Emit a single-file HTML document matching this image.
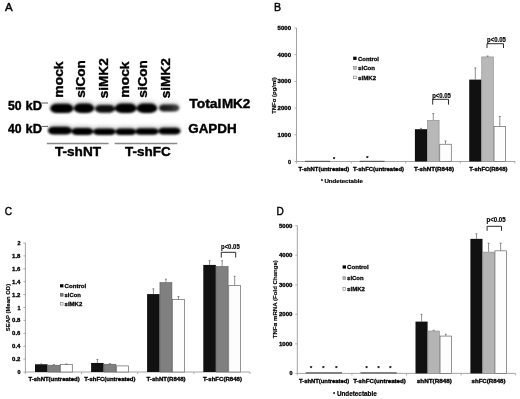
<!DOCTYPE html>
<html><head><meta charset="utf-8"><title>Figure</title>
<style>html,body{margin:0;padding:0;background:#fff;} svg{display:block;filter:blur(0.3px);} text{font-family:"Liberation Sans", Arial, sans-serif;}</style>
</head><body>
<svg width="520" height="399" viewBox="0 0 520 399">
<rect width="520" height="399" fill="#fff"/>
<text x="4.90" y="10.70" font-size="11.8" text-anchor="start" font-weight="normal" fill="#000" textLength="7.7" lengthAdjust="spacingAndGlyphs" stroke="#000" stroke-width="0.45">A</text>
<text transform="translate(62.60,97.65) rotate(-90)" font-size="12.0" text-anchor="start" font-weight="bold" fill="#000" textLength="36.199999999999996" lengthAdjust="spacingAndGlyphs" stroke="#000" stroke-width="0.35">mock</text>
<text transform="translate(85.30,97.65) rotate(-90)" font-size="12.0" text-anchor="start" font-weight="bold" fill="#000" textLength="37.5" lengthAdjust="spacingAndGlyphs" stroke="#000" stroke-width="0.35">siCon</text>
<text transform="translate(108.10,98.35) rotate(-90)" font-size="12.0" text-anchor="start" font-weight="bold" fill="#000" textLength="40.1" lengthAdjust="spacingAndGlyphs" stroke="#000" stroke-width="0.35">siMK2</text>
<text transform="translate(129.00,97.65) rotate(-90)" font-size="12.0" text-anchor="start" font-weight="bold" fill="#000" textLength="36.199999999999996" lengthAdjust="spacingAndGlyphs" stroke="#000" stroke-width="0.35">mock</text>
<text transform="translate(147.30,97.65) rotate(-90)" font-size="12.0" text-anchor="start" font-weight="bold" fill="#000" textLength="37.5" lengthAdjust="spacingAndGlyphs" stroke="#000" stroke-width="0.35">siCon</text>
<text transform="translate(169.50,98.35) rotate(-90)" font-size="12.0" text-anchor="start" font-weight="bold" fill="#000" textLength="40.1" lengthAdjust="spacingAndGlyphs" stroke="#000" stroke-width="0.35">siMK2</text>
<text x="7.90" y="110.30" font-size="12.6" text-anchor="start" font-weight="bold" fill="#000" textLength="13.6" lengthAdjust="spacingAndGlyphs" stroke="#000" stroke-width="0.4">50</text>
<text x="25.50" y="110.30" font-size="12.6" text-anchor="start" font-weight="bold" fill="#000" textLength="16.5" lengthAdjust="spacingAndGlyphs" stroke="#000" stroke-width="0.4">kD</text>
<line x1="41.60" y1="103.00" x2="48.00" y2="103.00" stroke="#333" stroke-width="0.8"/>
<text x="7.90" y="133.00" font-size="12.6" text-anchor="start" font-weight="bold" fill="#000" textLength="13.6" lengthAdjust="spacingAndGlyphs" stroke="#000" stroke-width="0.4">40</text>
<text x="25.50" y="133.00" font-size="12.6" text-anchor="start" font-weight="bold" fill="#000" textLength="16.5" lengthAdjust="spacingAndGlyphs" stroke="#000" stroke-width="0.4">kD</text>
<line x1="41.60" y1="126.40" x2="48.00" y2="126.40" stroke="#333" stroke-width="0.8"/>
<text x="189.20" y="108.10" font-size="13.2" text-anchor="start" font-weight="bold" fill="#000" textLength="32.2" lengthAdjust="spacingAndGlyphs" stroke="#000" stroke-width="0.4">Total</text>
<text x="221.90" y="108.10" font-size="13.2" text-anchor="start" font-weight="bold" fill="#000" textLength="28.4" lengthAdjust="spacingAndGlyphs" stroke="#000" stroke-width="0.4">MK2</text>
<text x="188.20" y="133.00" font-size="13.3" text-anchor="start" font-weight="bold" fill="#000" textLength="48.5" lengthAdjust="spacingAndGlyphs" stroke="#000" stroke-width="0.4">GAPDH</text>
<line x1="46.80" y1="143.60" x2="108.60" y2="143.60" stroke="#8a8a8a" stroke-width="1.5"/>
<line x1="114.60" y1="143.60" x2="177.30" y2="143.60" stroke="#8a8a8a" stroke-width="1.5"/>
<text x="55.00" y="156.30" font-size="12.7" text-anchor="start" font-weight="bold" fill="#000" textLength="46.0" lengthAdjust="spacingAndGlyphs" stroke="#000" stroke-width="0.4">T-shNT</text>
<text x="125.00" y="156.30" font-size="12.7" text-anchor="start" font-weight="bold" fill="#000" textLength="45.6" lengthAdjust="spacingAndGlyphs" stroke="#000" stroke-width="0.4">T-shFC</text>
<defs><filter id="bl" x="-20%" y="-60%" width="140%" height="220%"><feGaussianBlur stdDeviation="0.85"/></filter><filter id="bl2" x="-20%" y="-100%" width="140%" height="300%"><feGaussianBlur stdDeviation="2.2"/></filter><linearGradient id="g6" x1="0" y1="0" x2="1" y2="0"><stop offset="0" stop-color="#161616"/><stop offset="0.6" stop-color="#262626"/><stop offset="1" stop-color="#4a4a4a"/></linearGradient></defs>
<g filter="url(#bl2)" opacity="0.24">
<rect x="50.20" y="101.80" width="23.20" height="9.20" rx="6.90" ry="4.60" fill="#060606"/>
<rect x="73.80" y="101.60" width="20.40" height="9.40" rx="7.05" ry="4.70" fill="#060606"/>
<rect x="95.00" y="102.90" width="20.00" height="7.80" rx="5.85" ry="3.90" fill="#0a0a0a"/>
<rect x="114.80" y="101.50" width="21.80" height="9.50" rx="7.12" ry="4.75" fill="#060606"/>
<rect x="136.60" y="101.60" width="20.60" height="9.40" rx="7.05" ry="4.70" fill="#060606"/>
<rect x="159.00" y="102.60" width="20.40" height="6.80" rx="5.10" ry="3.40" fill="url(#g6)"/>
<rect x="48.00" y="124.70" width="23.80" height="7.90" rx="5.92" ry="3.95" fill="#060606"/>
<rect x="71.50" y="126.10" width="21.70" height="6.90" rx="5.18" ry="3.45" fill="#060606"/>
<rect x="93.20" y="126.40" width="22.40" height="6.60" rx="4.95" ry="3.30" fill="#060606"/>
<rect x="115.60" y="126.50" width="20.20" height="6.40" rx="4.80" ry="3.20" fill="#060606"/>
<rect x="135.60" y="126.30" width="22.60" height="6.40" rx="4.80" ry="3.20" fill="#060606"/>
<rect x="158.20" y="125.70" width="22.40" height="6.80" rx="5.10" ry="3.40" fill="#060606"/>
</g>
<g filter="url(#bl)">
<rect x="50.20" y="103.80" width="23.20" height="9.20" rx="6.90" ry="4.60" fill="#060606"/>
<rect x="73.80" y="103.60" width="20.40" height="9.40" rx="7.05" ry="4.70" fill="#060606"/>
<rect x="95.00" y="104.90" width="20.00" height="7.80" rx="5.85" ry="3.90" fill="#0a0a0a"/>
<rect x="114.80" y="103.50" width="21.80" height="9.50" rx="7.12" ry="4.75" fill="#060606"/>
<rect x="136.60" y="103.60" width="20.60" height="9.40" rx="7.05" ry="4.70" fill="#060606"/>
<rect x="159.00" y="104.60" width="20.40" height="6.80" rx="5.10" ry="3.40" fill="url(#g6)"/>
<rect x="48.00" y="126.70" width="23.80" height="7.90" rx="5.92" ry="3.95" fill="#060606"/>
<rect x="71.50" y="128.10" width="21.70" height="6.90" rx="5.18" ry="3.45" fill="#060606"/>
<rect x="93.20" y="128.40" width="22.40" height="6.60" rx="4.95" ry="3.30" fill="#060606"/>
<rect x="115.60" y="128.50" width="20.20" height="6.40" rx="4.80" ry="3.20" fill="#060606"/>
<rect x="135.60" y="128.30" width="22.60" height="6.40" rx="4.80" ry="3.20" fill="#060606"/>
<rect x="158.20" y="127.70" width="22.40" height="6.80" rx="5.10" ry="3.40" fill="#060606"/>
</g>
<text x="273.90" y="10.70" font-size="11.8" text-anchor="start" font-weight="normal" fill="#000" textLength="7.1" lengthAdjust="spacingAndGlyphs" stroke="#000" stroke-width="0.45">B</text>
<line x1="296.50" y1="28.00" x2="296.50" y2="161.50" stroke="#9a9a9a" stroke-width="0.9"/>
<line x1="296.50" y1="161.50" x2="515.00" y2="161.50" stroke="#9a9a9a" stroke-width="0.9"/>
<line x1="294.50" y1="161.50" x2="296.50" y2="161.50" stroke="#9a9a9a" stroke-width="0.8"/>
<text x="291.00" y="163.50" font-size="5.4" text-anchor="end" font-weight="bold" fill="#000" stroke="#000" stroke-width="0.3">0</text>
<line x1="294.50" y1="134.80" x2="296.50" y2="134.80" stroke="#9a9a9a" stroke-width="0.8"/>
<text x="291.00" y="136.80" font-size="5.4" text-anchor="end" font-weight="bold" fill="#000" textLength="13.4" lengthAdjust="spacingAndGlyphs" stroke="#000" stroke-width="0.3">1000</text>
<line x1="294.50" y1="108.10" x2="296.50" y2="108.10" stroke="#9a9a9a" stroke-width="0.8"/>
<text x="291.00" y="110.10" font-size="5.4" text-anchor="end" font-weight="bold" fill="#000" textLength="13.4" lengthAdjust="spacingAndGlyphs" stroke="#000" stroke-width="0.3">2000</text>
<line x1="294.50" y1="81.40" x2="296.50" y2="81.40" stroke="#9a9a9a" stroke-width="0.8"/>
<text x="291.00" y="83.40" font-size="5.4" text-anchor="end" font-weight="bold" fill="#000" textLength="13.4" lengthAdjust="spacingAndGlyphs" stroke="#000" stroke-width="0.3">3000</text>
<line x1="294.50" y1="54.70" x2="296.50" y2="54.70" stroke="#9a9a9a" stroke-width="0.8"/>
<text x="291.00" y="56.70" font-size="5.4" text-anchor="end" font-weight="bold" fill="#000" textLength="13.4" lengthAdjust="spacingAndGlyphs" stroke="#000" stroke-width="0.3">4000</text>
<line x1="294.50" y1="28.00" x2="296.50" y2="28.00" stroke="#9a9a9a" stroke-width="0.8"/>
<text x="291.00" y="30.00" font-size="5.4" text-anchor="end" font-weight="bold" fill="#000" textLength="13.4" lengthAdjust="spacingAndGlyphs" stroke="#000" stroke-width="0.3">5000</text>
<line x1="296.50" y1="161.50" x2="296.50" y2="163.50" stroke="#9a9a9a" stroke-width="0.8"/>
<line x1="351.10" y1="161.50" x2="351.10" y2="163.50" stroke="#9a9a9a" stroke-width="0.8"/>
<line x1="405.70" y1="161.50" x2="405.70" y2="163.50" stroke="#9a9a9a" stroke-width="0.8"/>
<line x1="460.30" y1="161.50" x2="460.30" y2="163.50" stroke="#9a9a9a" stroke-width="0.8"/>
<line x1="514.90" y1="161.50" x2="514.90" y2="163.50" stroke="#9a9a9a" stroke-width="0.8"/>
<rect x="414.90" y="129.19" width="12.25" height="32.31" fill="#111"/>
<line x1="421.02" y1="128.39" x2="421.02" y2="129.19" stroke="#444" stroke-width="0.6"/>
<line x1="420.02" y1="128.39" x2="422.02" y2="128.39" stroke="#444" stroke-width="0.6"/>
<rect x="427.45" y="120.31" width="11.65" height="41.19" fill="#b8b8b8" stroke="#8a8a8a" stroke-width="0.6"/>
<line x1="433.27" y1="113.57" x2="433.27" y2="120.01" stroke="#444" stroke-width="0.6"/>
<line x1="432.27" y1="113.57" x2="434.27" y2="113.57" stroke="#444" stroke-width="0.6"/>
<rect x="439.75" y="144.25" width="11.55" height="17.25" fill="#fdfdfd" stroke="#666" stroke-width="0.7"/>
<line x1="445.52" y1="140.99" x2="445.52" y2="143.90" stroke="#444" stroke-width="0.6"/>
<line x1="444.52" y1="140.99" x2="446.52" y2="140.99" stroke="#444" stroke-width="0.6"/>
<rect x="469.20" y="79.61" width="12.25" height="81.89" fill="#111"/>
<line x1="475.32" y1="67.89" x2="475.32" y2="79.61" stroke="#444" stroke-width="0.6"/>
<line x1="474.32" y1="67.89" x2="476.32" y2="67.89" stroke="#444" stroke-width="0.6"/>
<rect x="481.75" y="56.90" width="11.65" height="104.60" fill="#b8b8b8" stroke="#8a8a8a" stroke-width="0.6"/>
<line x1="487.57" y1="56.03" x2="487.57" y2="56.60" stroke="#444" stroke-width="0.6"/>
<line x1="486.57" y1="56.03" x2="488.57" y2="56.03" stroke="#444" stroke-width="0.6"/>
<rect x="494.05" y="126.55" width="11.55" height="34.95" fill="#fdfdfd" stroke="#666" stroke-width="0.7"/>
<line x1="499.82" y1="116.51" x2="499.82" y2="126.20" stroke="#444" stroke-width="0.6"/>
<line x1="498.82" y1="116.51" x2="500.82" y2="116.51" stroke="#444" stroke-width="0.6"/>
<rect x="305.00" y="160.80" width="25.00" height="1.10" fill="#555"/>
<rect x="359.70" y="160.80" width="24.80" height="1.10" fill="#555"/>
<text transform="translate(275.80,95.50) rotate(-90)" font-size="6.0" text-anchor="middle" font-weight="bold" fill="#000" textLength="36.7" lengthAdjust="spacingAndGlyphs" stroke="#000" stroke-width="0.15">TNFα (pg/ml)</text>
<rect x="353.20" y="56.70" width="3.40" height="3.20" fill="#000"/>
<text x="358.10" y="60.60" font-size="6.2" text-anchor="start" font-weight="bold" fill="#000" textLength="20.9" lengthAdjust="spacingAndGlyphs" stroke="#000" stroke-width="0.26">Control</text>
<rect x="353.50" y="66.60" width="2.80" height="2.60" fill="#b8b8b8" stroke="#888" stroke-width="0.6"/>
<text x="358.10" y="70.20" font-size="6.2" text-anchor="start" font-weight="bold" fill="#000" textLength="16.9" lengthAdjust="spacingAndGlyphs" stroke="#000" stroke-width="0.26">siCon</text>
<rect x="353.55" y="76.10" width="2.70" height="2.60" fill="#fff" stroke="#777" stroke-width="0.6"/>
<text x="358.10" y="79.70" font-size="6.2" text-anchor="start" font-weight="bold" fill="#000" textLength="18.0" lengthAdjust="spacingAndGlyphs" stroke="#000" stroke-width="0.26">siMK2</text>
<polyline points="432.70,104.60 432.70,99.30 448.50,99.30 448.50,104.60" fill="none" stroke="#2a2a2a" stroke-width="1"/>
<text x="432.20" y="97.90" font-size="6.3" text-anchor="start" font-weight="bold" fill="#000" textLength="18.600000000000023" lengthAdjust="spacingAndGlyphs" stroke="#000" stroke-width="0.15">p&lt;0.05</text>
<polyline points="487.00,48.00 487.00,43.70 503.50,43.70 503.50,48.00" fill="none" stroke="#2a2a2a" stroke-width="1"/>
<text x="487.00" y="42.40" font-size="6.3" text-anchor="start" font-weight="bold" fill="#000" textLength="18.80000000000001" lengthAdjust="spacingAndGlyphs" stroke="#000" stroke-width="0.15">p&lt;0.05</text>
<text x="298.40" y="171.00" font-size="5.4" text-anchor="start" font-weight="bold" fill="#000" textLength="50.9" lengthAdjust="spacingAndGlyphs" stroke="#000" stroke-width="0.3">T-shNT(untreated)</text>
<text x="353.00" y="171.00" font-size="5.4" text-anchor="start" font-weight="bold" fill="#000" textLength="51" lengthAdjust="spacingAndGlyphs" stroke="#000" stroke-width="0.3">T-shFC(untreated)</text>
<text x="414.00" y="171.00" font-size="5.4" text-anchor="start" font-weight="bold" fill="#000" textLength="40.0" lengthAdjust="spacingAndGlyphs" stroke="#000" stroke-width="0.3">T-shNT(R848)</text>
<text x="469.30" y="171.00" font-size="5.4" text-anchor="start" font-weight="bold" fill="#000" textLength="38.1" lengthAdjust="spacingAndGlyphs" stroke="#000" stroke-width="0.3">T-shFC(R848)</text>
<text x="324.40" y="183.20" font-size="6.1" text-anchor="start" font-weight="bold" fill="#000" textLength="38.4" lengthAdjust="spacingAndGlyphs" stroke="#000" stroke-width="0.2">Undetectable</text>
<text x="321.90" y="182.78" font-size="4.5" text-anchor="middle" font-weight="bold" fill="#000" stroke="#000" stroke-width="0.2">*</text>
<text x="334.20" y="161.28" font-size="5.6" text-anchor="middle" font-weight="bold" fill="#000" stroke="#000" stroke-width="0.2">*</text>
<text x="367.40" y="160.08" font-size="5.6" text-anchor="middle" font-weight="bold" fill="#000" stroke="#000" stroke-width="0.2">*</text>
<text x="4.70" y="214.50" font-size="11.8" text-anchor="start" font-weight="normal" fill="#000" textLength="7.3" lengthAdjust="spacingAndGlyphs" stroke="#000" stroke-width="0.4">C</text>
<line x1="25.40" y1="243.00" x2="25.40" y2="372.00" stroke="#9a9a9a" stroke-width="0.9"/>
<line x1="25.40" y1="372.00" x2="250.00" y2="372.00" stroke="#9a9a9a" stroke-width="0.9"/>
<line x1="23.40" y1="372.00" x2="25.40" y2="372.00" stroke="#9a9a9a" stroke-width="0.8"/>
<text x="20.40" y="374.00" font-size="5.4" text-anchor="end" font-weight="bold" fill="#000" stroke="#000" stroke-width="0.3">0</text>
<line x1="23.40" y1="359.10" x2="25.40" y2="359.10" stroke="#9a9a9a" stroke-width="0.8"/>
<text x="20.40" y="361.10" font-size="5.4" text-anchor="end" font-weight="bold" fill="#000" textLength="8.3" lengthAdjust="spacingAndGlyphs" stroke="#000" stroke-width="0.3">0.2</text>
<line x1="23.40" y1="346.20" x2="25.40" y2="346.20" stroke="#9a9a9a" stroke-width="0.8"/>
<text x="20.40" y="348.20" font-size="5.4" text-anchor="end" font-weight="bold" fill="#000" textLength="8.3" lengthAdjust="spacingAndGlyphs" stroke="#000" stroke-width="0.3">0.4</text>
<line x1="23.40" y1="333.30" x2="25.40" y2="333.30" stroke="#9a9a9a" stroke-width="0.8"/>
<text x="20.40" y="335.30" font-size="5.4" text-anchor="end" font-weight="bold" fill="#000" textLength="8.3" lengthAdjust="spacingAndGlyphs" stroke="#000" stroke-width="0.3">0.6</text>
<line x1="23.40" y1="320.40" x2="25.40" y2="320.40" stroke="#9a9a9a" stroke-width="0.8"/>
<text x="20.40" y="322.40" font-size="5.4" text-anchor="end" font-weight="bold" fill="#000" textLength="8.3" lengthAdjust="spacingAndGlyphs" stroke="#000" stroke-width="0.3">0.8</text>
<line x1="23.40" y1="307.50" x2="25.40" y2="307.50" stroke="#9a9a9a" stroke-width="0.8"/>
<text x="20.40" y="309.50" font-size="5.4" text-anchor="end" font-weight="bold" fill="#000" stroke="#000" stroke-width="0.3">1</text>
<line x1="23.40" y1="294.60" x2="25.40" y2="294.60" stroke="#9a9a9a" stroke-width="0.8"/>
<text x="20.40" y="296.60" font-size="5.4" text-anchor="end" font-weight="bold" fill="#000" textLength="8.3" lengthAdjust="spacingAndGlyphs" stroke="#000" stroke-width="0.3">1.2</text>
<line x1="23.40" y1="281.70" x2="25.40" y2="281.70" stroke="#9a9a9a" stroke-width="0.8"/>
<text x="20.40" y="283.70" font-size="5.4" text-anchor="end" font-weight="bold" fill="#000" textLength="8.3" lengthAdjust="spacingAndGlyphs" stroke="#000" stroke-width="0.3">1.4</text>
<line x1="23.40" y1="268.80" x2="25.40" y2="268.80" stroke="#9a9a9a" stroke-width="0.8"/>
<text x="20.40" y="270.80" font-size="5.4" text-anchor="end" font-weight="bold" fill="#000" textLength="8.3" lengthAdjust="spacingAndGlyphs" stroke="#000" stroke-width="0.3">1.6</text>
<line x1="23.40" y1="255.90" x2="25.40" y2="255.90" stroke="#9a9a9a" stroke-width="0.8"/>
<text x="20.40" y="257.90" font-size="5.4" text-anchor="end" font-weight="bold" fill="#000" textLength="8.3" lengthAdjust="spacingAndGlyphs" stroke="#000" stroke-width="0.3">1.8</text>
<line x1="23.40" y1="243.00" x2="25.40" y2="243.00" stroke="#9a9a9a" stroke-width="0.8"/>
<text x="20.40" y="245.00" font-size="5.4" text-anchor="end" font-weight="bold" fill="#000" stroke="#000" stroke-width="0.3">2</text>
<line x1="25.40" y1="372.00" x2="25.40" y2="374.00" stroke="#9a9a9a" stroke-width="0.8"/>
<line x1="81.55" y1="372.00" x2="81.55" y2="374.00" stroke="#9a9a9a" stroke-width="0.8"/>
<line x1="137.70" y1="372.00" x2="137.70" y2="374.00" stroke="#9a9a9a" stroke-width="0.8"/>
<line x1="193.85" y1="372.00" x2="193.85" y2="374.00" stroke="#9a9a9a" stroke-width="0.8"/>
<line x1="250.00" y1="372.00" x2="250.00" y2="374.00" stroke="#9a9a9a" stroke-width="0.8"/>
<rect x="35.00" y="364.26" width="12.55" height="7.74" fill="#111"/>
<line x1="41.27" y1="363.94" x2="41.27" y2="364.26" stroke="#444" stroke-width="0.6"/>
<line x1="40.27" y1="363.94" x2="42.27" y2="363.94" stroke="#444" stroke-width="0.6"/>
<rect x="47.85" y="365.20" width="11.95" height="6.80" fill="#808080" stroke="#5a5a5a" stroke-width="0.6"/>
<line x1="53.82" y1="364.58" x2="53.82" y2="364.90" stroke="#444" stroke-width="0.6"/>
<line x1="52.82" y1="364.58" x2="54.82" y2="364.58" stroke="#444" stroke-width="0.6"/>
<rect x="60.45" y="364.61" width="11.85" height="7.39" fill="#fdfdfd" stroke="#666" stroke-width="0.7"/>
<line x1="66.38" y1="363.94" x2="66.38" y2="364.26" stroke="#444" stroke-width="0.6"/>
<line x1="65.38" y1="363.94" x2="67.38" y2="363.94" stroke="#444" stroke-width="0.6"/>
<rect x="91.10" y="362.97" width="12.55" height="9.03" fill="#111"/>
<line x1="97.38" y1="359.42" x2="97.38" y2="362.97" stroke="#444" stroke-width="0.6"/>
<line x1="96.38" y1="359.42" x2="98.38" y2="359.42" stroke="#444" stroke-width="0.6"/>
<rect x="103.95" y="364.24" width="11.95" height="7.76" fill="#808080" stroke="#5a5a5a" stroke-width="0.6"/>
<line x1="109.92" y1="363.62" x2="109.92" y2="363.94" stroke="#444" stroke-width="0.6"/>
<line x1="108.92" y1="363.62" x2="110.92" y2="363.62" stroke="#444" stroke-width="0.6"/>
<rect x="116.55" y="365.90" width="11.85" height="6.10" fill="#fdfdfd" stroke="#666" stroke-width="0.7"/>
<rect x="147.10" y="294.08" width="12.55" height="77.92" fill="#111"/>
<line x1="153.38" y1="288.80" x2="153.38" y2="294.08" stroke="#444" stroke-width="0.6"/>
<line x1="152.38" y1="288.80" x2="154.38" y2="288.80" stroke="#444" stroke-width="0.6"/>
<rect x="159.95" y="282.65" width="11.95" height="89.35" fill="#808080" stroke="#5a5a5a" stroke-width="0.6"/>
<line x1="165.93" y1="279.12" x2="165.93" y2="282.35" stroke="#444" stroke-width="0.6"/>
<line x1="164.93" y1="279.12" x2="166.93" y2="279.12" stroke="#444" stroke-width="0.6"/>
<rect x="172.55" y="299.59" width="11.85" height="72.41" fill="#fdfdfd" stroke="#666" stroke-width="0.7"/>
<line x1="178.47" y1="296.54" x2="178.47" y2="299.24" stroke="#444" stroke-width="0.6"/>
<line x1="177.47" y1="296.54" x2="179.47" y2="296.54" stroke="#444" stroke-width="0.6"/>
<rect x="203.30" y="264.93" width="12.55" height="107.07" fill="#111"/>
<line x1="209.58" y1="260.74" x2="209.58" y2="264.93" stroke="#444" stroke-width="0.6"/>
<line x1="208.58" y1="260.74" x2="210.58" y2="260.74" stroke="#444" stroke-width="0.6"/>
<rect x="216.15" y="266.52" width="11.95" height="105.48" fill="#808080" stroke="#5a5a5a" stroke-width="0.6"/>
<line x1="222.13" y1="260.74" x2="222.13" y2="266.22" stroke="#444" stroke-width="0.6"/>
<line x1="221.13" y1="260.74" x2="223.13" y2="260.74" stroke="#444" stroke-width="0.6"/>
<rect x="228.75" y="285.60" width="11.85" height="86.40" fill="#fdfdfd" stroke="#666" stroke-width="0.7"/>
<line x1="234.68" y1="276.22" x2="234.68" y2="285.25" stroke="#444" stroke-width="0.6"/>
<line x1="233.68" y1="276.22" x2="235.68" y2="276.22" stroke="#444" stroke-width="0.6"/>
<text transform="translate(10.00,307.60) rotate(-90)" font-size="6.0" text-anchor="middle" font-weight="bold" fill="#000" textLength="47.4" lengthAdjust="spacingAndGlyphs" stroke="#000" stroke-width="0.15">SEAP (Mean OD)</text>
<rect x="60.00" y="284.20" width="3.40" height="3.20" fill="#000"/>
<text x="64.60" y="288.10" font-size="6.2" text-anchor="start" font-weight="bold" fill="#000" textLength="21.6" lengthAdjust="spacingAndGlyphs" stroke="#000" stroke-width="0.26">Control</text>
<rect x="60.30" y="293.60" width="2.80" height="2.60" fill="#808080" stroke="#555" stroke-width="0.6"/>
<text x="64.60" y="297.20" font-size="6.2" text-anchor="start" font-weight="bold" fill="#000" textLength="16.2" lengthAdjust="spacingAndGlyphs" stroke="#000" stroke-width="0.26">siCon</text>
<rect x="60.35" y="302.50" width="2.70" height="2.60" fill="#fff" stroke="#777" stroke-width="0.6"/>
<text x="64.60" y="306.10" font-size="6.2" text-anchor="start" font-weight="bold" fill="#000" textLength="17.7" lengthAdjust="spacingAndGlyphs" stroke="#000" stroke-width="0.26">siMK2</text>
<polyline points="221.30,257.50 221.30,252.30 235.70,252.30 235.70,257.50" fill="none" stroke="#2a2a2a" stroke-width="1"/>
<text x="221.00" y="248.70" font-size="6.3" text-anchor="start" font-weight="bold" fill="#000" textLength="18.69999999999999" lengthAdjust="spacingAndGlyphs" stroke="#000" stroke-width="0.15">p&lt;0.05</text>
<text x="28.40" y="381.40" font-size="5.4" text-anchor="start" font-weight="bold" fill="#000" textLength="51.3" lengthAdjust="spacingAndGlyphs" stroke="#000" stroke-width="0.3">T-shNT(untreated)</text>
<text x="84.20" y="381.40" font-size="5.4" text-anchor="start" font-weight="bold" fill="#000" textLength="51.2" lengthAdjust="spacingAndGlyphs" stroke="#000" stroke-width="0.3">T-shFC(untreated)</text>
<text x="146.50" y="381.40" font-size="5.4" text-anchor="start" font-weight="bold" fill="#000" textLength="39.1" lengthAdjust="spacingAndGlyphs" stroke="#000" stroke-width="0.3">T-shNT(R848)</text>
<text x="202.90" y="381.40" font-size="5.4" text-anchor="start" font-weight="bold" fill="#000" textLength="39.1" lengthAdjust="spacingAndGlyphs" stroke="#000" stroke-width="0.3">T-shFC(R848)</text>
<text x="276.40" y="214.50" font-size="11.8" text-anchor="start" font-weight="normal" fill="#000" textLength="7.3" lengthAdjust="spacingAndGlyphs" stroke="#000" stroke-width="0.45">D</text>
<line x1="297.30" y1="225.65" x2="297.30" y2="373.40" stroke="#9a9a9a" stroke-width="0.9"/>
<line x1="297.30" y1="373.40" x2="515.50" y2="373.40" stroke="#9a9a9a" stroke-width="0.9"/>
<line x1="295.30" y1="373.40" x2="297.30" y2="373.40" stroke="#9a9a9a" stroke-width="0.8"/>
<text x="292.40" y="375.40" font-size="5.4" text-anchor="end" font-weight="bold" fill="#000" stroke="#000" stroke-width="0.3">0</text>
<line x1="295.30" y1="343.85" x2="297.30" y2="343.85" stroke="#9a9a9a" stroke-width="0.8"/>
<text x="292.40" y="345.85" font-size="5.4" text-anchor="end" font-weight="bold" fill="#000" textLength="13.4" lengthAdjust="spacingAndGlyphs" stroke="#000" stroke-width="0.3">1000</text>
<line x1="295.30" y1="314.30" x2="297.30" y2="314.30" stroke="#9a9a9a" stroke-width="0.8"/>
<text x="292.40" y="316.30" font-size="5.4" text-anchor="end" font-weight="bold" fill="#000" textLength="13.4" lengthAdjust="spacingAndGlyphs" stroke="#000" stroke-width="0.3">2000</text>
<line x1="295.30" y1="284.75" x2="297.30" y2="284.75" stroke="#9a9a9a" stroke-width="0.8"/>
<text x="292.40" y="286.75" font-size="5.4" text-anchor="end" font-weight="bold" fill="#000" textLength="13.4" lengthAdjust="spacingAndGlyphs" stroke="#000" stroke-width="0.3">3000</text>
<line x1="295.30" y1="255.20" x2="297.30" y2="255.20" stroke="#9a9a9a" stroke-width="0.8"/>
<text x="292.40" y="257.20" font-size="5.4" text-anchor="end" font-weight="bold" fill="#000" textLength="13.4" lengthAdjust="spacingAndGlyphs" stroke="#000" stroke-width="0.3">4000</text>
<line x1="295.30" y1="225.65" x2="297.30" y2="225.65" stroke="#9a9a9a" stroke-width="0.8"/>
<text x="292.40" y="227.65" font-size="5.4" text-anchor="end" font-weight="bold" fill="#000" textLength="13.4" lengthAdjust="spacingAndGlyphs" stroke="#000" stroke-width="0.3">5000</text>
<line x1="297.30" y1="373.40" x2="297.30" y2="375.40" stroke="#9a9a9a" stroke-width="0.8"/>
<line x1="351.90" y1="373.40" x2="351.90" y2="375.40" stroke="#9a9a9a" stroke-width="0.8"/>
<line x1="406.50" y1="373.40" x2="406.50" y2="375.40" stroke="#9a9a9a" stroke-width="0.8"/>
<line x1="461.10" y1="373.40" x2="461.10" y2="375.40" stroke="#9a9a9a" stroke-width="0.8"/>
<line x1="515.70" y1="373.40" x2="515.70" y2="375.40" stroke="#9a9a9a" stroke-width="0.8"/>
<rect x="415.50" y="321.60" width="12.10" height="51.80" fill="#111"/>
<line x1="421.55" y1="314.30" x2="421.55" y2="321.60" stroke="#444" stroke-width="0.6"/>
<line x1="420.55" y1="314.30" x2="422.55" y2="314.30" stroke="#444" stroke-width="0.6"/>
<rect x="427.90" y="331.03" width="11.50" height="42.37" fill="#b4b4b4" stroke="#888" stroke-width="0.6"/>
<line x1="433.65" y1="330.26" x2="433.65" y2="330.73" stroke="#444" stroke-width="0.6"/>
<line x1="432.65" y1="330.26" x2="434.65" y2="330.26" stroke="#444" stroke-width="0.6"/>
<rect x="440.05" y="336.07" width="11.40" height="37.33" fill="#fdfdfd" stroke="#666" stroke-width="0.7"/>
<line x1="445.75" y1="334.19" x2="445.75" y2="335.72" stroke="#444" stroke-width="0.6"/>
<line x1="444.75" y1="334.19" x2="446.75" y2="334.19" stroke="#444" stroke-width="0.6"/>
<rect x="470.40" y="238.86" width="12.10" height="134.54" fill="#111"/>
<line x1="476.45" y1="233.78" x2="476.45" y2="238.86" stroke="#444" stroke-width="0.6"/>
<line x1="475.45" y1="233.78" x2="477.45" y2="233.78" stroke="#444" stroke-width="0.6"/>
<rect x="482.80" y="252.10" width="11.50" height="121.30" fill="#b4b4b4" stroke="#888" stroke-width="0.6"/>
<line x1="488.55" y1="243.20" x2="488.55" y2="251.80" stroke="#444" stroke-width="0.6"/>
<line x1="487.55" y1="243.20" x2="489.55" y2="243.20" stroke="#444" stroke-width="0.6"/>
<rect x="494.95" y="250.82" width="11.40" height="122.58" fill="#fdfdfd" stroke="#666" stroke-width="0.7"/>
<line x1="500.65" y1="243.20" x2="500.65" y2="250.47" stroke="#444" stroke-width="0.6"/>
<line x1="499.65" y1="243.20" x2="501.65" y2="243.20" stroke="#444" stroke-width="0.6"/>
<rect x="305.70" y="372.20" width="36.30" height="1.40" fill="#666"/>
<rect x="360.40" y="372.20" width="36.30" height="1.40" fill="#666"/>
<text transform="translate(277.10,299.20) rotate(-90)" font-size="6.1" text-anchor="middle" font-weight="bold" fill="#000" textLength="78.1" lengthAdjust="spacingAndGlyphs" stroke="#000" stroke-width="0.15">TNFα mRNA (Fold Change)</text>
<rect x="342.60" y="265.40" width="3.40" height="3.20" fill="#000"/>
<text x="347.10" y="269.30" font-size="6.2" text-anchor="start" font-weight="bold" fill="#000" textLength="21.7" lengthAdjust="spacingAndGlyphs" stroke="#000" stroke-width="0.26">Control</text>
<rect x="342.90" y="276.70" width="2.80" height="2.60" fill="#b4b4b4" stroke="#888" stroke-width="0.6"/>
<text x="347.10" y="280.30" font-size="6.2" text-anchor="start" font-weight="bold" fill="#000" textLength="16.5" lengthAdjust="spacingAndGlyphs" stroke="#000" stroke-width="0.26">siCon</text>
<rect x="342.95" y="287.60" width="2.70" height="2.60" fill="#fff" stroke="#777" stroke-width="0.6"/>
<text x="347.10" y="291.20" font-size="6.2" text-anchor="start" font-weight="bold" fill="#000" textLength="17.8" lengthAdjust="spacingAndGlyphs" stroke="#000" stroke-width="0.26">siMK2</text>
<polyline points="487.10,230.80 487.10,226.30 501.50,226.30 501.50,230.80" fill="none" stroke="#2a2a2a" stroke-width="1"/>
<text x="486.50" y="221.60" font-size="6.3" text-anchor="start" font-weight="bold" fill="#000" textLength="19.100000000000023" lengthAdjust="spacingAndGlyphs" stroke="#000" stroke-width="0.15">p&lt;0.05</text>
<text x="299.10" y="382.60" font-size="5.4" text-anchor="start" font-weight="bold" fill="#000" textLength="50.2" lengthAdjust="spacingAndGlyphs" stroke="#000" stroke-width="0.3">T-shNT(untreated)</text>
<text x="353.20" y="382.60" font-size="5.4" text-anchor="start" font-weight="bold" fill="#000" textLength="52.6" lengthAdjust="spacingAndGlyphs" stroke="#000" stroke-width="0.3">T-shFC(untreated)</text>
<text x="416.80" y="382.60" font-size="5.4" text-anchor="start" font-weight="bold" fill="#000" textLength="35" lengthAdjust="spacingAndGlyphs" stroke="#000" stroke-width="0.3">shNT(R848)</text>
<text x="471.50" y="382.60" font-size="5.4" text-anchor="start" font-weight="bold" fill="#000" textLength="34" lengthAdjust="spacingAndGlyphs" stroke="#000" stroke-width="0.3">shFC(R848)</text>
<text x="336.90" y="395.60" font-size="6.3" text-anchor="start" font-weight="bold" fill="#000" textLength="39.8" lengthAdjust="spacingAndGlyphs" stroke="#000" stroke-width="0.2">Undetectable</text>
<text x="334.10" y="395.68" font-size="4.5" text-anchor="middle" font-weight="bold" fill="#000" stroke="#000" stroke-width="0.2">*</text>
<text x="311.00" y="369.78" font-size="5.6" text-anchor="middle" font-weight="bold" fill="#000" stroke="#000" stroke-width="0.2">*</text>
<text x="323.40" y="369.78" font-size="5.6" text-anchor="middle" font-weight="bold" fill="#000" stroke="#000" stroke-width="0.2">*</text>
<text x="336.30" y="369.78" font-size="5.6" text-anchor="middle" font-weight="bold" fill="#000" stroke="#000" stroke-width="0.2">*</text>
<text x="366.60" y="369.78" font-size="5.6" text-anchor="middle" font-weight="bold" fill="#000" stroke="#000" stroke-width="0.2">*</text>
<text x="378.60" y="369.78" font-size="5.6" text-anchor="middle" font-weight="bold" fill="#000" stroke="#000" stroke-width="0.2">*</text>
<text x="390.30" y="369.78" font-size="5.6" text-anchor="middle" font-weight="bold" fill="#000" stroke="#000" stroke-width="0.2">*</text>
</svg>
</body></html>
